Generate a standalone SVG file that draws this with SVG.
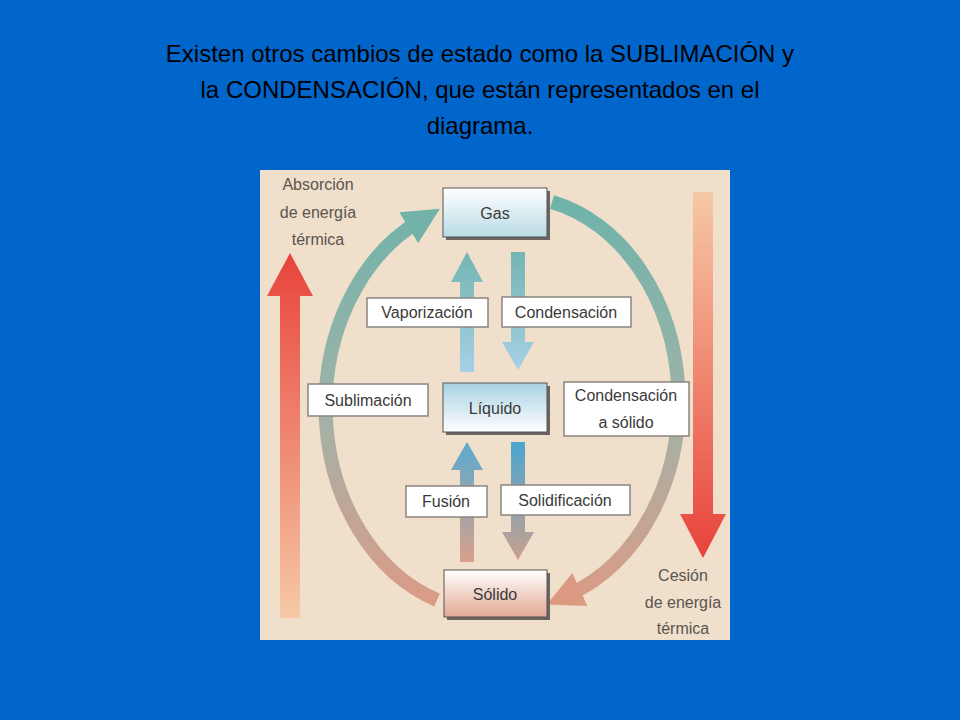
<svg xmlns="http://www.w3.org/2000/svg" width="960" height="720" viewBox="0 0 960 720">
<style>
.t{font-family:"Liberation Sans",Arial,sans-serif;fill:#000;font-size:24px;text-anchor:middle}
.l{font-family:"Liberation Sans",Arial,sans-serif;fill:#3a3a3a;font-size:16px;text-anchor:middle}
.s{font-family:"Liberation Sans",Arial,sans-serif;fill:#5a5550;font-size:16px;text-anchor:middle}
.lb{fill:#fff;stroke:#8a8580;stroke-width:1.5}
.sh{fill:#6a6560}
</style>
<defs>
<linearGradient id="arc" gradientUnits="userSpaceOnUse" x1="0" y1="200" x2="0" y2="610"><stop offset="0" stop-color="#6fb3aa"/><stop offset="0.5" stop-color="#9fb3a8"/><stop offset="1" stop-color="#dd9a85"/></linearGradient>
<linearGradient id="up" x1="0" y1="1" x2="0" y2="0"><stop offset="0" stop-color="#f6c9a6"/><stop offset="1" stop-color="#e8433a"/></linearGradient>
<linearGradient id="down" x1="0" y1="0" x2="0" y2="1"><stop offset="0" stop-color="#f6c9a6"/><stop offset="1" stop-color="#e8433a"/></linearGradient>
<linearGradient id="vap" x1="0" y1="1" x2="0" y2="0"><stop offset="0" stop-color="#a6d0e6"/><stop offset="1" stop-color="#74b5b2"/></linearGradient>
<linearGradient id="con" x1="0" y1="0" x2="0" y2="1"><stop offset="0" stop-color="#74b5b2"/><stop offset="1" stop-color="#a6d0e6"/></linearGradient>
<linearGradient id="fus" x1="0" y1="1" x2="0" y2="0"><stop offset="0" stop-color="#d8a08a"/><stop offset="1" stop-color="#5aaad0"/></linearGradient>
<linearGradient id="sol" x1="0" y1="0" x2="0" y2="1"><stop offset="0" stop-color="#4aa6d0"/><stop offset="1" stop-color="#c9a090"/></linearGradient>
<linearGradient id="nb" x1="0" y1="0" x2="0" y2="1"><stop offset="0" stop-color="#ffffff"/><stop offset="1" stop-color="#b9dbe6"/></linearGradient>
<linearGradient id="nbl" x1="0" y1="0" x2="0" y2="1"><stop offset="0" stop-color="#a9d2e3"/><stop offset="1" stop-color="#ffffff"/></linearGradient>
<linearGradient id="ns" x1="0" y1="0" x2="0" y2="1"><stop offset="0" stop-color="#ffffff"/><stop offset="1" stop-color="#e3a893"/></linearGradient>
<marker id="mt" viewBox="0 0 10 10" refX="3" refY="5" markerWidth="2.6" markerHeight="2.6" orient="auto"><path d="M0,0 L10,5 L0,10 Z" fill="#72b2a8"/></marker>
<marker id="ms" viewBox="0 0 10 10" refX="3" refY="5" markerWidth="2.6" markerHeight="2.6" orient="auto"><path d="M0,0 L10,5 L0,10 Z" fill="#dc9a82"/></marker>
</defs>
<rect width="960" height="720" fill="#0066cc"/>
<text class="t" x="480" y="62">Existen otros cambios de estado como la SUBLIMACIÓN y</text>
<text class="t" x="480" y="98">la CONDENSACIÓN, que están representados en el</text>
<text class="t" x="480" y="134">diagrama.</text>
<rect x="260" y="170" width="470" height="470" fill="#efdfcb"/>
<g id="connectors">
<path d="M437,600 A165 205 0 0 1 418,222" fill="none" stroke="url(#arc)" stroke-width="14" marker-end="url(#mt)"/>
<path d="M552,202 A165 205 0 0 1 570,594" fill="none" stroke="url(#arc)" stroke-width="14" marker-end="url(#ms)"/>
<path d="M460,372 V282 H451 L467,252 L483,282 H474 V372 Z" fill="url(#vap)"/>
<path d="M511,252 V342 H502 L518,370 L534,342 H525 V252 Z" fill="url(#con)"/>
<path d="M460,562 V470 H451 L467,442 L483,470 H474 V562 Z" fill="url(#fus)"/>
<path d="M511,442 V532 H502 L518,560 L534,532 H525 V442 Z" fill="url(#sol)"/>
<path d="M280,618 V296 H267 L290,253 L313,296 H300 V618 Z" fill="url(#up)"/>
<path d="M693,192 V514 H680 L703,558 L726,514 H713 V192 Z" fill="url(#down)"/>
</g>
<g id="absorcion"><text class="s" x="318" y="190">Absorción</text><text class="s" x="318" y="218">de energía</text><text class="s" x="318" y="245">térmica</text></g>
<g id="cesion"><text class="s" x="683" y="581">Cesión</text><text class="s" x="683" y="608">de energía</text><text class="s" x="683" y="634">térmica</text></g>
<g id="gas"><rect class="sh" x="446" y="191" width="104" height="49"/><rect x="443" y="188" width="104" height="49" fill="url(#nb)" stroke="#555" stroke-width="1"/><text class="l" x="495" y="219">Gas</text></g>
<g id="liquido"><rect class="sh" x="446" y="386" width="104" height="49"/><rect x="443" y="383" width="104" height="49" fill="url(#nbl)" stroke="#555" stroke-width="1"/><text class="l" x="495" y="414">Líquido</text></g>
<g id="solido"><rect class="sh" x="447" y="573" width="103" height="47"/><rect x="444" y="570" width="103" height="47" fill="url(#ns)" stroke="#555" stroke-width="1"/><text class="l" x="495" y="600">Sólido</text></g>
<g id="vaporizacion"><rect class="lb" x="367" y="298" width="121" height="29"/><text class="l" x="427" y="318">Vaporización</text></g>
<g id="condensacion"><rect class="lb" x="502" y="297" width="129" height="30"/><text class="l" x="566" y="318">Condensación</text></g>
<g id="sublimacion"><rect class="lb" x="308" y="384" width="120" height="32"/><text class="l" x="368" y="406">Sublimación</text></g>
<g id="condensacion-solido"><rect class="lb" x="564" y="382" width="125" height="54"/><text class="l" x="626" y="401">Condensación</text><text class="l" x="626" y="428">a sólido</text></g>
<g id="fusion"><rect class="lb" x="406" y="486" width="81" height="31"/><text class="l" x="446" y="507">Fusión</text></g>
<g id="solidificacion"><rect class="lb" x="501" y="485" width="129" height="30"/><text class="l" x="565" y="506">Solidificación</text></g>
</svg>
